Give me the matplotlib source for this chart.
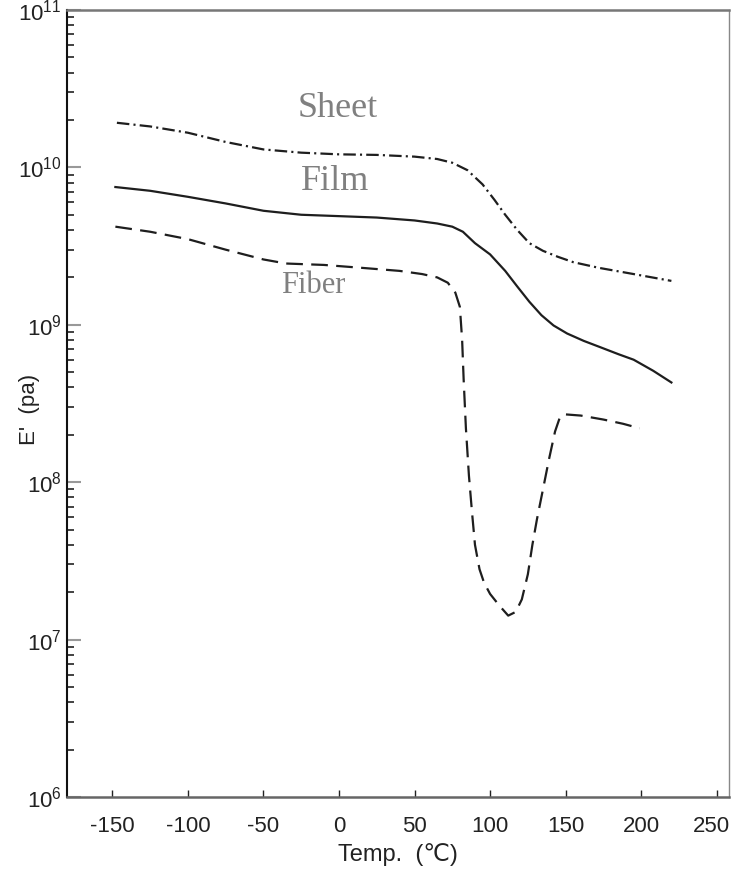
import numpy as np
import matplotlib
matplotlib.use("Agg")
from matplotlib import pyplot as plt
import matplotlib.transforms as mtrans
from matplotlib.ticker import LogLocator, FixedLocator

plt.rcParams['font.family'] = ['Liberation Sans', 'DejaVu Sans']
plt.rcParams['mathtext.fontset'] = 'custom'
plt.rcParams['mathtext.rm'] = 'Liberation Sans'
plt.rcParams['mathtext.it'] = 'Liberation Sans'
plt.rcParams['axes.unicode_minus'] = False
plt.rcParams['lines.scale_dashes'] = False

# values
sheet_t = [-147, -125, -100, -75, -50, -25, 0, 25, 50, 65, 75, 85, 95, 103, 110, 118,
           126, 135, 145, 155, 172, 195, 220]
sheet_e = [1.92e10, 1.82e10, 1.66e10, 1.45e10, 1.30e10, 1.24e10, 1.21e10, 1.20e10, 1.17e10,
           1.13e10, 1.07e10, 9.6e9, 7.8e9, 6.2e9, 5.0e9, 4.0e9, 3.3e9, 2.95e9, 2.7e9,
           2.5e9, 2.3e9, 2.1e9, 1.9e9]

film_t = [-148, -125, -100, -75, -50, -25, 0, 25, 50, 65, 75, 82, 90, 100, 110, 118, 126,
          134, 142, 151, 162, 173, 185, 195, 208, 220]
film_e = [7.5e9, 7.1e9, 6.5e9, 5.9e9, 5.3e9, 5.0e9, 4.9e9, 4.8e9, 4.6e9, 4.4e9, 4.2e9, 3.9e9,
          3.3e9, 2.8e9, 2.2e9, 1.75e9, 1.4e9, 1.15e9, 9.9e8, 8.8e8, 7.9e8, 7.2e8, 6.5e8,
          6.0e8, 5.1e8, 4.3e8]

fiber_t = [-148, -125, -100, -75, -50, -35, -10, 15, 40, 55, 65, 72, 77, 80, 81.5, 82.5, 84,
           86, 88, 90, 93, 96, 100, 106, 112, 117, 121, 125, 128, 131, 135, 139, 143, 146,
           149, 160, 175, 188, 199]
fiber_e = [4.2e9, 3.9e9, 3.5e9, 3.0e9, 2.6e9, 2.45e9, 2.4e9, 2.3e9, 2.2e9, 2.1e9, 2.0e9,
           1.85e9, 1.6e9, 1.3e9, 8e8, 4.5e8, 2.2e8, 1.1e8, 6.5e7, 4.0e7, 2.8e7, 2.3e7, 1.95e7,
           1.65e7, 1.42e7, 1.5e7, 1.8e7, 2.6e7, 4e7, 5.8e7, 9e7, 1.4e8, 2.1e8, 2.55e8, 2.7e8,
           2.65e8, 2.5e8, 2.35e8, 2.2e8]

x_ticks = [-150, -100, -50, 0, 50, 100, 150, 200, 250]

fig = plt.figure(figsize=(7.31, 8.74), dpi=100)
ax = fig.add_axes([0.0917, 0.0881, 0.9053, 0.9005])

ink = '#1e1e1e'
ax.plot(sheet_t, sheet_e, color=ink, lw=1.6, dashes=(9, 3, 1.5, 3))
ax.plot(film_t, film_e, color=ink, lw=1.6)
ax.plot(fiber_t, fiber_e, color=ink, lw=1.6, dashes=(12, 6))

ax.set_yscale('log')
ax.set_xlim(-180, 258)
ax.set_ylim(1e6, 1e11)
ax.xaxis.set_major_locator(FixedLocator(x_ticks))
ax.yaxis.set_major_locator(LogLocator(base=10))
ax.yaxis.set_minor_locator(LogLocator(base=10, subs=np.arange(2, 10)))
ax.yaxis.set_minor_formatter(plt.NullFormatter())

ax.tick_params(axis='x', direction='in', length=5, width=1, pad=14, labelsize=16, colors='#222222')
ax.tick_params(axis='y', which='major', direction='in', length=10, width=1.5, pad=4,
               labelsize=16, color='#999999', labelcolor='#222222')
ax.tick_params(axis='y', which='minor', direction='in', length=5, width=1.2, color='#222222')

# last x label sits at the figure edge, keep it inside
last = ax.get_xticklabels()[-1]
last.set_ha('right')
last.set_transform(last.get_transform() + mtrans.ScaledTranslation(0.13, 0, fig.dpi_scale_trans))

ax.spines['left'].set_color('#111111')
ax.spines['left'].set_linewidth(1.5)
ax.spines['bottom'].set_color('#666666')
ax.spines['bottom'].set_linewidth(1.8)
ax.spines['top'].set_color('#777777')
ax.spines['top'].set_linewidth(1.8)
ax.spines['right'].set_color('#888888')
ax.spines['right'].set_linewidth(1.0)

ax.set_xlabel('Temp.  (\u2103)', fontsize=17, color='#222222', labelpad=4)
ax.set_ylabel("E'  (pa)", fontsize=16, color='#222222')
ax.yaxis.set_label_coords(-0.041, 0.492)

label_font = dict(family='Liberation Serif', color='#808080', ha='center', va='baseline',
                  transform=ax.transAxes)
ax.text(0.409, 0.864, 'Sheet', fontsize=26, **label_font)
ax.text(0.405, 0.771, 'Film', fontsize=26, **label_font)
ax.text(0.372, 0.640, 'Fiber', fontsize=22, **label_font)

plt.savefig('out.png', dpi=100)
